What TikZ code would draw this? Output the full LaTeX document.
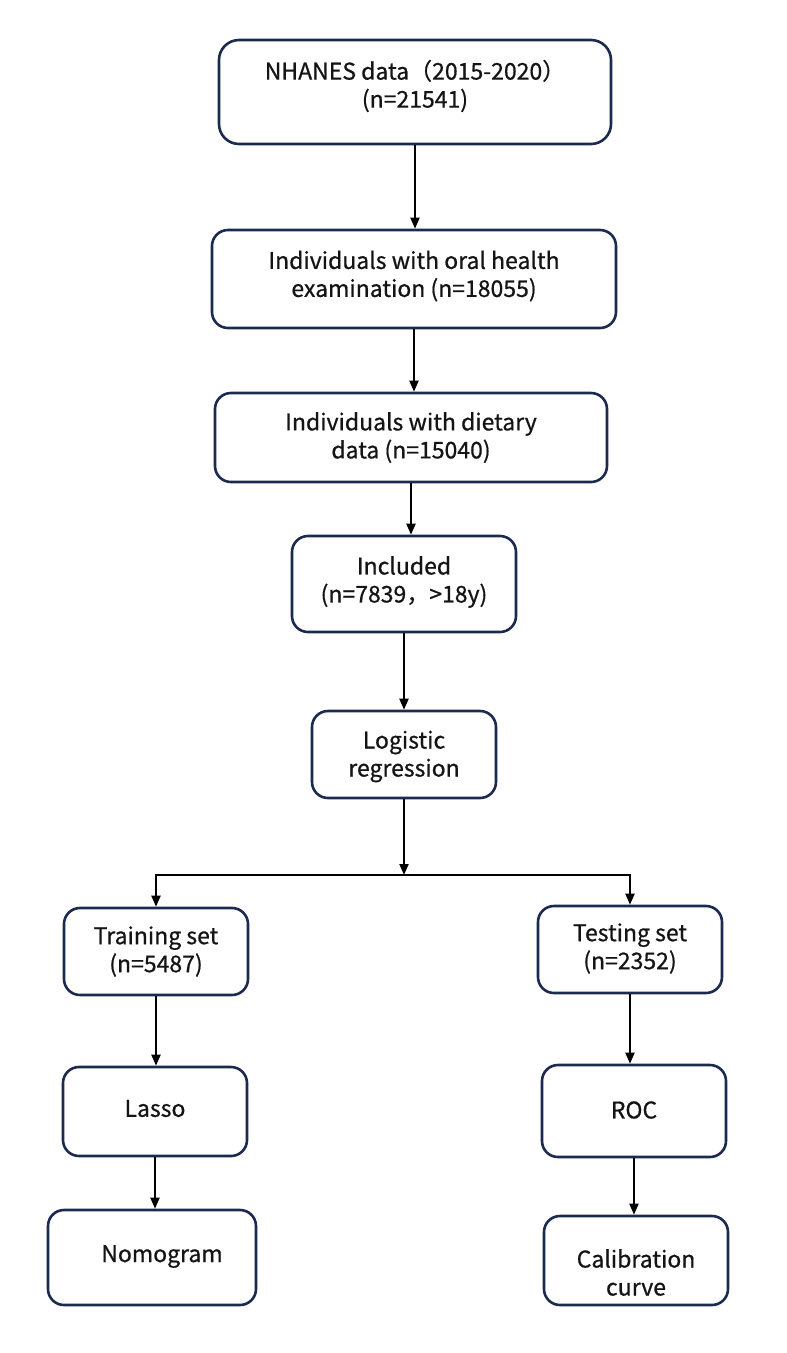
\documentclass[tikz,border=0pt]{standalone}
\usepackage{fontspec}
\setmainfont{Noto Sans CJK SC}[FakeBold=0.7]
\usetikzlibrary{arrows.meta}
\definecolor{boxline}{HTML}{1C2A4F}
\definecolor{ink}{HTML}{141414}
\begin{document}
\begin{tikzpicture}[x=1pt,y=-1pt,
  stage/.style={draw=boxline, line width=2.6pt, rounded corners=16pt, fill=white, inner sep=0pt},
  bigstage/.style={stage, rounded corners=20pt},
  lbl/.style={font=\fontsize{23}{28}\selectfont, text=ink, align=center, inner sep=0pt},
  flow/.style={draw=black, line width=2pt, -{Triangle[length=11pt,width=9pt]}}]
\useasboundingbox[fill=white] (0,0) rectangle (787,1353);

% main column
\node[bigstage, minimum width=392pt, minimum height=104pt] (data) at (415,92) {};
\node[stage, minimum width=404pt, minimum height=98pt] (oral) at (414,279) {};
\node[stage, minimum width=392pt, minimum height=89pt] (diet) at (411,437.5) {};
\node[stage, minimum width=224pt, minimum height=96pt] (incl) at (404,584) {};
\node[stage, minimum width=184pt, minimum height=87pt] (logit) at (404,754.5) {};

% training branch
\node[stage, minimum width=184pt, minimum height=87pt] (train) at (156,951.5) {};
\node[stage, minimum width=184pt, minimum height=89pt] (lasso) at (155,1111.5) {};
\node[stage, minimum width=208pt, minimum height=95pt] (nomo) at (152,1257.5) {};

% testing branch
\node[stage, minimum width=184pt, minimum height=87pt] (test) at (630,949.5) {};
\node[stage, minimum width=184pt, minimum height=92pt] (roc) at (634,1111) {};
\node[stage, minimum width=184pt, minimum height=89pt] (calib) at (636,1260.5) {};

% labels
\node[lbl] (data-t) at ([yshift=6pt]data.center) {NHANES data（2015-2020）\\(n=21541)};
\node[lbl] (oral-t) at ([yshift=3pt]oral.center) {Individuals with oral health\\examination (n=18055)};
\node[lbl] (diet-t) at (diet.center) {Individuals with dietary\\data (n=15040)};
\node[lbl] (incl-t) at ([yshift=2pt]incl.center) {Included\\(n=7839，>18y)};
\node[lbl] (logit-t) at ([yshift=-2pt]logit.center) {Logistic\\regression};
\node[lbl] (train-t) at (train.center) {Training set\\(n=5487)};
\node[lbl] (test-t) at ([yshift=1pt]test.center) {Testing set\\(n=2352)};
\node[lbl] (lasso-t) at ([yshift=3pt]lasso.center) {Lasso};
\node[lbl] (nomo-t) at ([xshift=10pt,yshift=1pt]nomo.center) {Nomogram};
\node[lbl] (roc-t) at ([yshift=1pt]roc.center) {ROC};
\node[lbl] (calib-t) at ([yshift=-12pt]calib.center) {Calibration\\curve};

% connectors
\coordinate (split) at (logit.south |- 0,875);
\draw[flow] (data.south) -- (data.south |- oral.north);
\draw[flow] (oral.south) -- (oral.south |- diet.north);
\draw[flow] (diet.south) -- (diet.south |- incl.north);
\draw[flow] (incl.south) -- (incl.south |- logit.north);
\draw[flow] (logit.south) -- (split);
\draw[flow] (split) -| (train.north);
\draw[flow] (split) -| (test.north);
\draw[flow] (train.south) -- (train.south |- lasso.north);
\draw[flow] (lasso.south) -- (lasso.south |- nomo.north);
\draw[flow] (test.south) -- (test.south |- roc.north);
\draw[flow] (roc.south) -- (roc.south |- calib.north);
\end{tikzpicture}
\end{document}
